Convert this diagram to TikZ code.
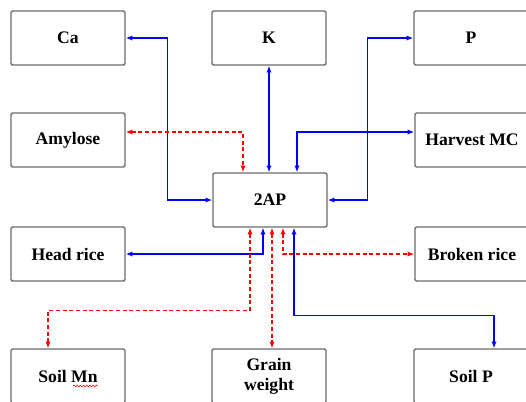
\documentclass[tikz,border=0pt]{standalone}
\usepackage{fontspec}
\setmainfont{Liberation Serif}
\usetikzlibrary{arrows.meta,calc,decorations.pathmorphing}
\begin{document}
\begin{tikzpicture}[x=0.75pt,y=-0.75pt,
  box/.style={draw=black!58,line width=1.1pt,rounded corners=1pt,fill=white,
    minimum width=85.5pt,minimum height=40.5pt,inner sep=1pt,
    font=\fontsize{13.2}{15}\selectfont\bfseries,align=center},
  link/.style={draw=blue,line width=1pt,{Latex[length=5pt,width=4pt]}-{Latex[length=5pt,width=4pt]}},
  dlink/.style={draw=red,line width=1pt,dash pattern=on 3pt off 2pt,{Latex[length=5pt,width=4pt]}-{Latex[length=5pt,width=4pt]}},
  spellwave/.style={draw=red,line width=0.4pt,decorate,decoration={snake,amplitude=0.7pt,segment length=2.4pt}}]
\useasboundingbox (0,0) rectangle (526,401);

\node[box] (ca) at (68,38) {Ca};
\node[box] (k) at (269,38) {K};
\node[box] (p) at (471,38) {P};
\node[box] (amy) at (68,140) {Amylose};
\node[box] (hmc) at (472,140) {Harvest MC};
\node[box] (ap) at (270,200) {2AP};
\node[box] (head) at (68,254) {Head rice};
\node[box] (broken) at (472,254) {Broken rice};
\node[box] (mn) at (68,376) {Soil Mn};
\node[box] (grain) at (269,376) {Grain\\weight};
\node[box] (sp) at (471,376) {Soil P};

% named bends
\coordinate (cabend) at ($(ap.west)+(-45,0)$);
\coordinate (pbend) at ($(ap.east)+(40,0)$);
\coordinate (mnbend) at ($(mn.north)+(-20,-38)$);
\coordinate (spbend) at ($(ap.south)+(24,88)$);

% top
\draw[link] (ap.west) -- (cabend) |- (ca.east);
\draw[link] (k.south) -- (k.south |- ap.north);
\draw[link] (ap.east) -- (pbend) |- (p.west);
\draw[dlink] ($(amy.east)+(0,-8)$) -| ($(ap.north)+(-27,0)$);
\draw[link] ($(hmc.west)+(0,-8)$) -| ($(ap.north)+(27,0)$);

% bottom
\draw[link] (head.east) -| ($(ap.south)+(-7,0)$);
\draw[dlink] ($(ap.south)+(13,0)$) |- (broken.west);
\draw[dlink] ($(mn.north)+(-20,0)$) -- (mnbend) -| ($(ap.south)+(-20,0)$);
\draw[dlink] ($(ap.south)+(2,0)$) -- ($(grain.north)+(3,0)$);
\draw[link] ($(ap.south)+(24,0)$) -- (spbend) -| ($(sp.north)+(23,0)$);
\draw[spellwave] ($(mn.center)+(5,10)$) -- ($(mn.center)+(30,10)$);
\end{tikzpicture}
\end{document}
